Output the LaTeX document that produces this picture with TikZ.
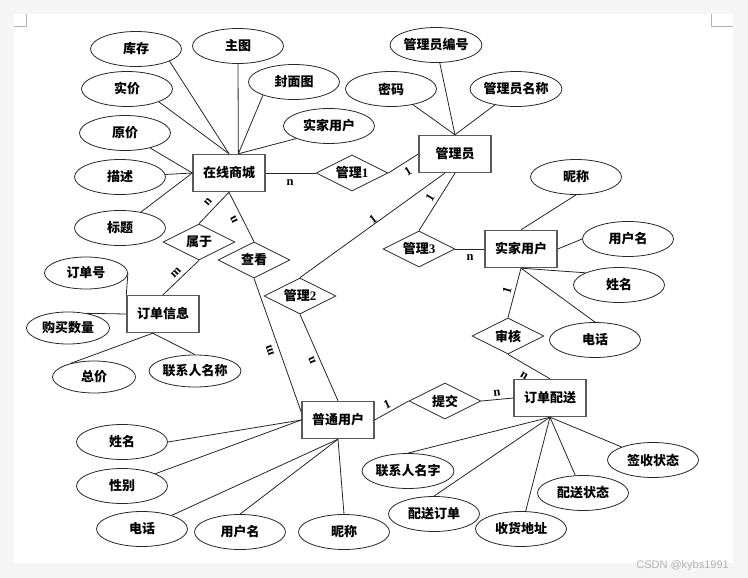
\documentclass[tikz,border=0pt]{standalone}
\usepackage{fontspec}
\setmainfont{Liberation Serif}
\newfontfamily\cjk{Noto Sans CJK SC}
\newfontfamily\wmfont{Liberation Sans}
\usetikzlibrary{shapes.geometric}
\newcommand\zh[1]{{\cjk #1}}
\newcommand\zhsize{\bfseries\fontsize{13}{15}\selectfont}
\tikzset{
  attr/.style={ellipse, draw=black!85, line width=0.8pt, minimum width=91pt, minimum height=35pt, inner sep=0pt, font=\zhsize},
  sattr/.style={attr, minimum width=83pt, minimum height=32pt},
  ent/.style={rectangle, draw=black!65, line width=1.4pt, minimum width=72pt, minimum height=37pt, inner sep=0pt, font=\zhsize},
  rel/.style={diamond, draw=black!85, line width=0.8pt, minimum width=72pt, minimum height=36pt, inner sep=0pt, label={[font=\zhsize, inner sep=0pt]center:#1}},
  conn/.style={draw=black!85, line width=0.8pt},
  card/.style={font=\bfseries\fontsize{12.5}{13}\selectfont, inner sep=0pt},
}
\begin{document}
\begin{tikzpicture}[x=1pt,y=-1pt]
\fill[black!4] (0,0) rectangle (748,578);
\useasboundingbox (0,0) rectangle (748,578);
\fill[white] (14,14) rectangle (733,563);
\draw[black!30, line width=0.6pt] (14,26) -- (26,26) -- (26,14);
\draw[black!30, line width=0.6pt] (711,14) -- (711,26) -- (733,26);

% entities
\node[ent] (shop) at (229,173) {\zh{在线商城}};
\node[ent] (gly) at (455,154) {\zh{管理员}};
\node[ent] (sjyh) at (521,249) {\zh{实家用户}};
\node[ent] (ddps) at (550,398) {\zh{订单配送}};
\node[ent] (pt) at (338,420) {\zh{普通用户}};
\node[ent] (ddxx) at (163,314) {\zh{订单信息}};

% relations
\node[rel={\zh{管理}1}] (gl1) at (352,173) {};
\node[rel={\zh{管理}3}] (gl3) at (419,249) {};
\node[rel={\zh{审核}}] (sh) at (508,336) {};
\node[rel={\zh{提交}}] (tj) at (445,401) {};
\node[rel={\zh{管理}2}] (gl2) at (300,296) {};
\node[rel={\zh{属于}}] (sy) at (199,242) {};
\node[rel={\zh{查看}}] (ck) at (254,260) {};

% attributes
\node[attr] (kc) at (136,49) {\zh{库存}};
\node[attr] (zt) at (238,46) {\zh{主图}};
\node[attr] (fmt) at (294,82) {\zh{封面图}};
\node[attr] (sj) at (127,89) {\zh{实价}};
\node[attr] (sjyh1) at (329,126) {\zh{实家用户}};
\node[attr] (yj) at (125,133) {\zh{原价}};
\node[attr] (ms) at (120,177) {\zh{描述}};
\node[attr] (bt) at (120,228) {\zh{标题}};
\node[attr] (glybh) at (436,45) {\zh{管理员编号}};
\node[attr] (mm) at (391,89) {\zh{密码}};
\node[attr] (glymc) at (516,89) {\zh{管理员名称}};
\node[attr] (nc1) at (576,177) {\zh{昵称}};
\node[attr] (yhm1) at (628,239) {\zh{用户名}};
\node[attr] (xm1) at (619,285) {\zh{姓名}};
\node[attr] (dh1) at (595,340) {\zh{电话}};
\node[attr] (qszt) at (653,460) {\zh{签收状态}};
\node[attr] (pszt) at (583,493) {\zh{配送状态}};
\node[attr] (lxrmz) at (408,471) {\zh{联系人名字}};
\node[attr] (psdd) at (434,514) {\zh{配送订单}};
\node[attr] (shdz) at (521,529) {\zh{收货地址}};
\node[attr] (nc2) at (344,532) {\zh{昵称}};
\node[attr] (yhm2) at (240,532) {\zh{用户名}};
\node[attr] (dh2) at (142,529) {\zh{电话}};
\node[attr] (xb) at (122,486) {\zh{性别}};
\node[attr] (xm2) at (122,442) {\zh{姓名}};
\node[sattr] (gmsl) at (68,328) {\zh{购买数量}};
\node[sattr] (zj) at (94,377) {\zh{总价}};
\node[sattr] (lxrmc) at (195,371) {\zh{联系人名称}};
\node[sattr] (ddh) at (86,273) {\zh{订单号}};

% connectors
\draw[conn] (kc.-20) -- (shop.north);
\draw[conn] (sj.-22) -- (shop.north);
\draw[conn] (zt.south) -- (shop.64);
\draw[conn] (fmt.203) -- (shop.64);
\draw[conn] (sjyh1.201) -- (shop.64);
\draw[conn] (yj) -- (shop.west);
\draw[conn] (ms) -- (shop.west);
\draw[conn] (bt) -- (shop.west);
\draw[conn] (shop.east) -- (gl1.west);
\draw[conn] (gl1.east) -- (gly.west);
\draw[conn] (glybh) -- (gly.north);
\draw[conn] (mm) -- (gly.north);
\draw[conn] (glymc) -- (gly.north);
\draw[conn] (gly.south) -- (gl3.north);
\draw[conn] (gly.242) -- (gl2.north);
\draw[conn] (gl3.east) -- (sjyh.west);
\draw[conn] (nc1.south) -- (sjyh.north);
\draw[conn] (yhm1.west) -- (sjyh.east);
\draw[conn] (xm1.160) -- (sjyh.south);
\draw[conn] (dh1.north) -- (sjyh.south);
\draw[conn] (sh.north) -- (sjyh.south);
\draw[conn] (sh.south) -- (ddps.north);
\draw[conn] (pt.east) -- (tj.west);
\draw[conn] (tj.east) -- (ddps.west);
\draw[conn] (qszt) -- (ddps.south);
\draw[conn] (pszt) -- (ddps.south);
\draw[conn] (shdz) -- (ddps.south);
\draw[conn] (psdd.north) -- (ddps.south);
\draw[conn] (lxrmz.north) -- (ddps.south);
\draw[conn] (xm2.east) -- (pt.west);
\draw[conn] (xb) -- (pt.west);
\draw[conn] (dh2) -- (pt.south);
\draw[conn] (yhm2.north) -- (pt.south);
\draw[conn] (nc2.north) -- (pt.south);
\draw[conn] (shop.south) -- (sy.north);
\draw[conn] (shop.south) -- (ck.north);
\draw[conn] (sy.south) -- (ddxx.north);
\draw[conn] (ck.south) -- (pt.168);
\draw[conn] (gl2.south) -- (pt.north);
\draw[conn] (ddh.east) -- (ddxx.north west);
\draw[conn] (gmsl.38) -- (ddxx.west);
\draw[conn] (zj.150) -- (ddxx.242);
\draw[conn] (lxrmc.north) -- (ddxx.242);

% cardinalities
\node[card] (c1) at (290,183) {n};
\node[card, rotate=31] (c2) at (408,171) {1};
\node[card, rotate=58] (c3) at (430,198) {1};
\node[card, rotate=36] (c4) at (373,219) {1};
\node[card] (c5) at (470,258) {n};
\node[card, rotate=74] (c6) at (507,290) {1};
\node[card, rotate=-31] (c7) at (524,376) {n};
\node[card, rotate=24] (c8) at (387,404) {1};
\node[card, rotate=7] (c9) at (497,393) {n};
\node[card, rotate=48] (c10) at (208,202) {n};
\node[card, rotate=116] (c11) at (234,220) {n};
\node[card, rotate=45] (c12) at (176,273) {m};
\node[card, rotate=109] (c13) at (270,351) {m};
\node[card, rotate=113] (c14) at (312,360) {n};

\node[font=\wmfont\fontsize{11}{12}\selectfont, text=black!30, anchor=east, inner sep=0pt] (wm) at (729,566) {CSDN @kybs1991};
\end{tikzpicture}
\end{document}
